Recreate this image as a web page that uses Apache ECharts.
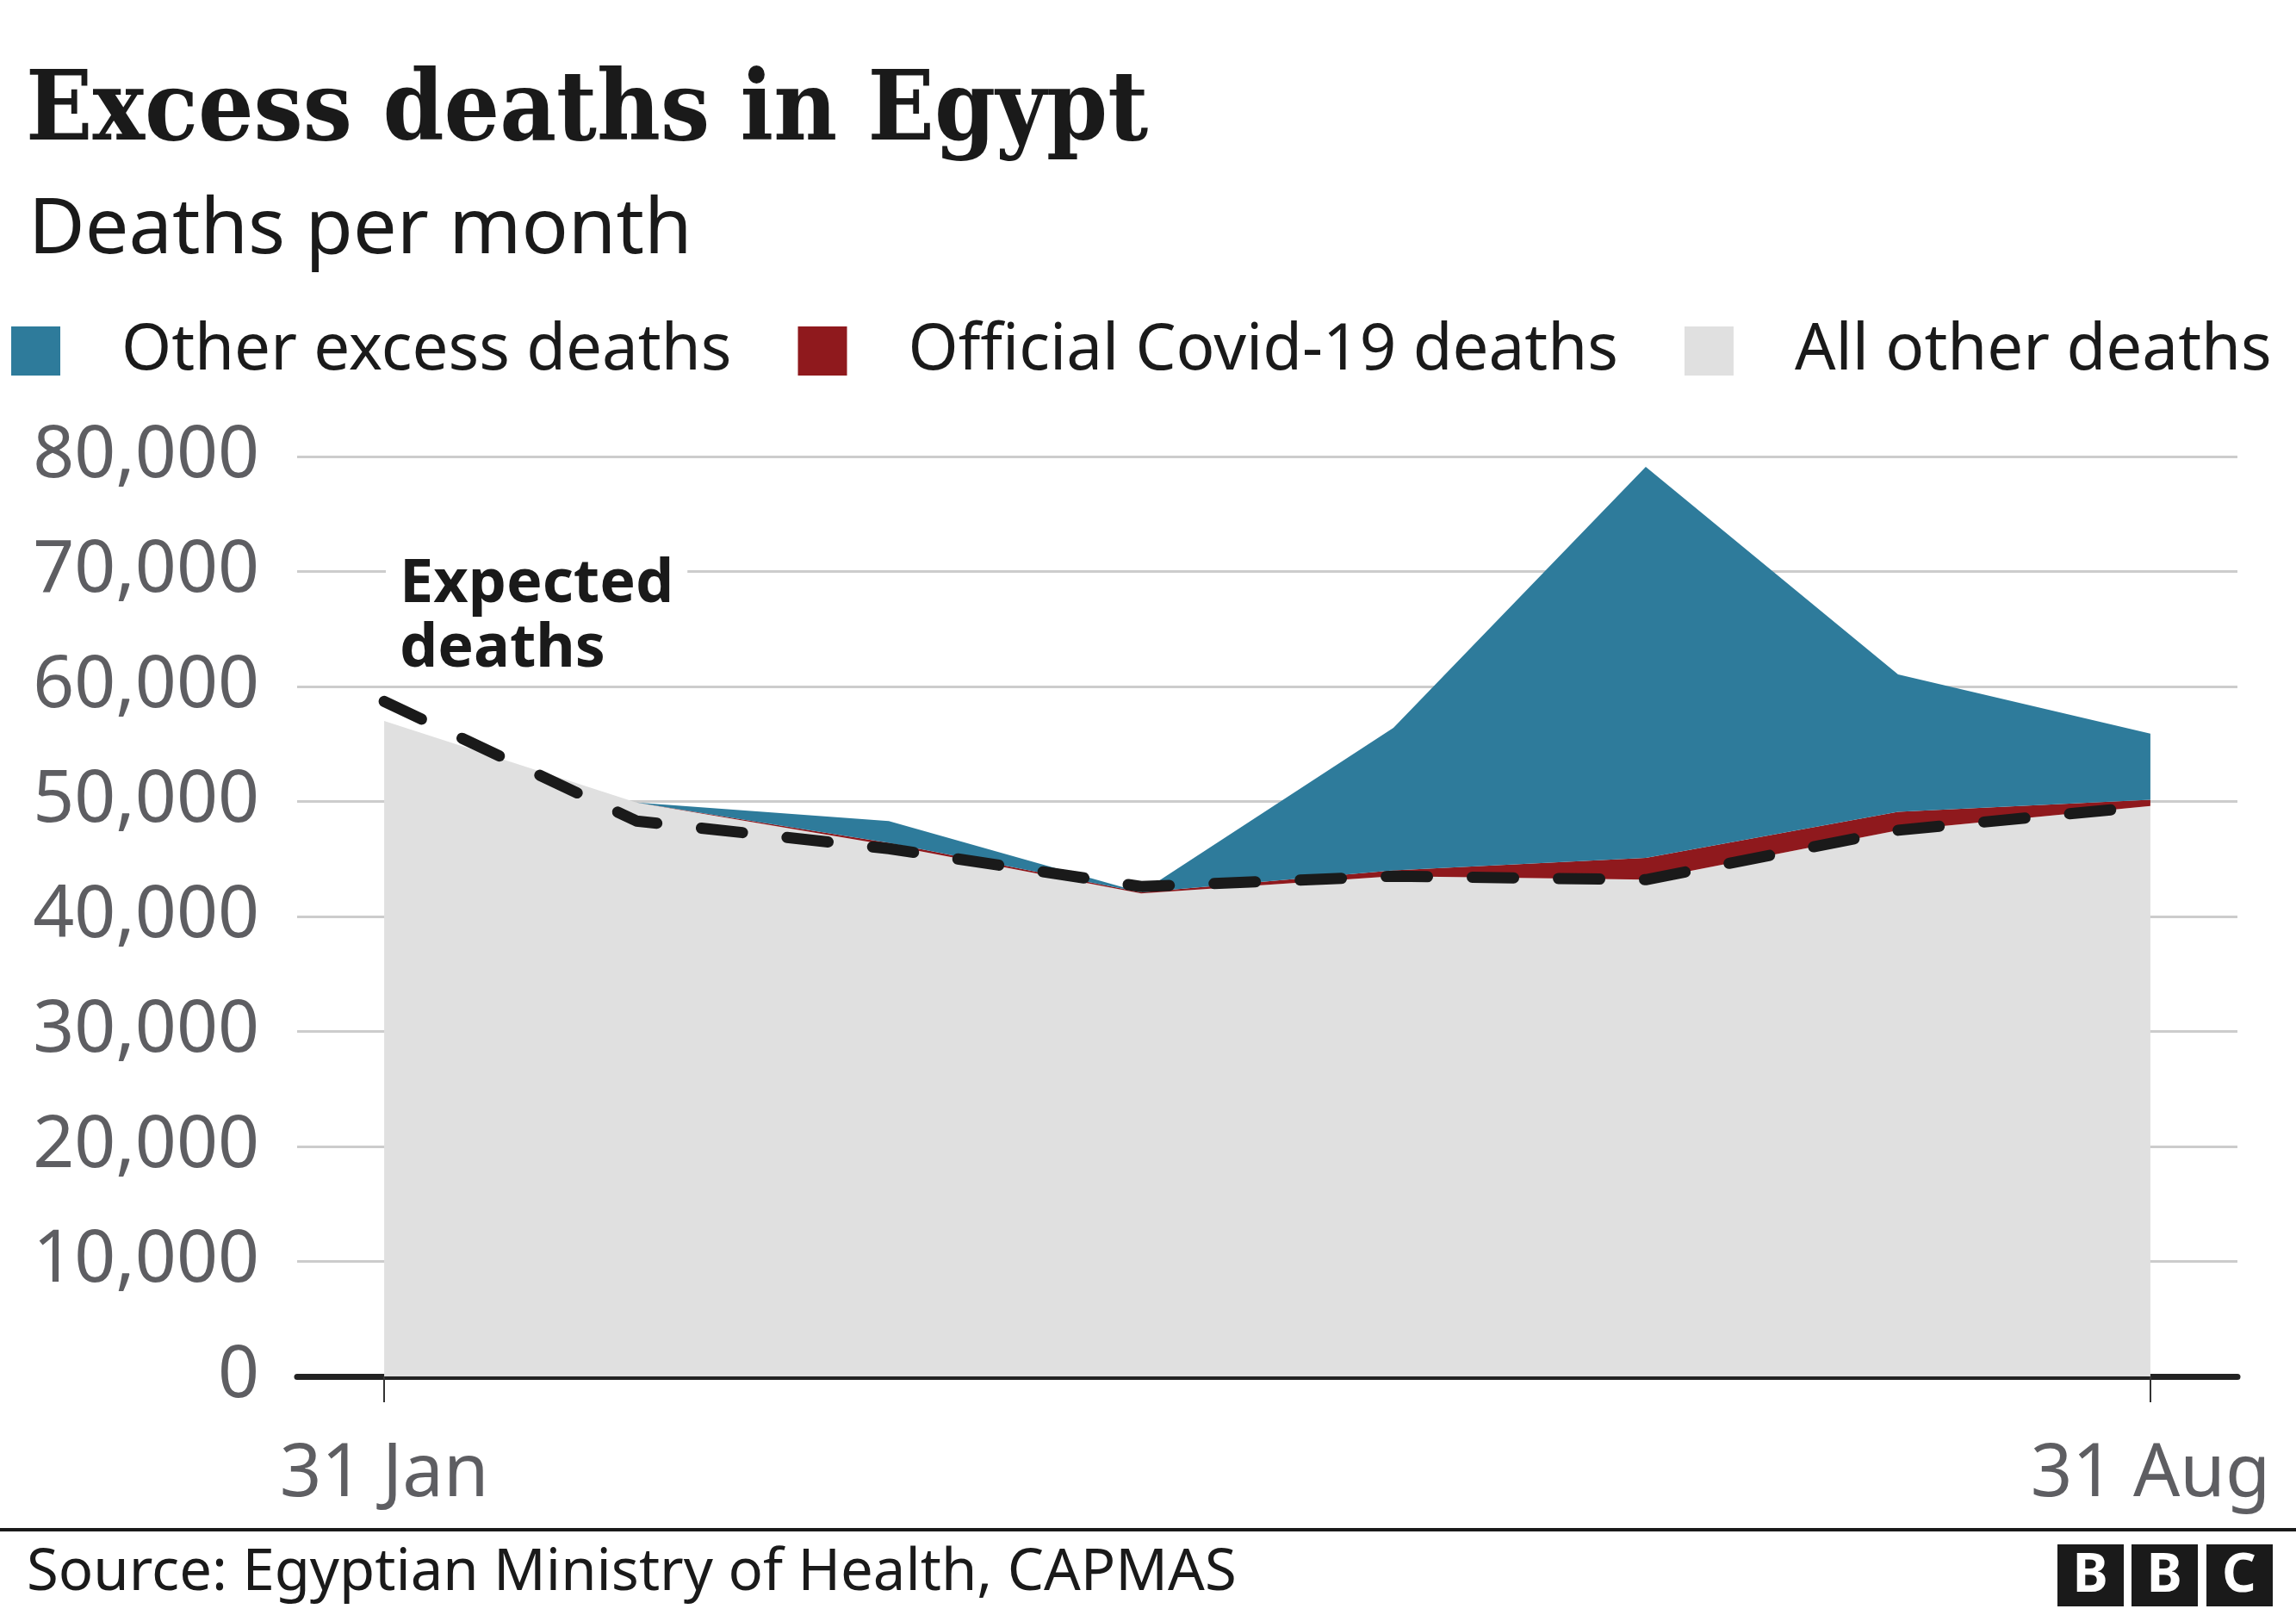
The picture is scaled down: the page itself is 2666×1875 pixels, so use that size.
<!DOCTYPE html>
<html>
<head>
<meta charset="utf-8">
<script src="https://cdn.jsdelivr.net/npm/echarts@6/dist/echarts.min.js"></script>
<style>
html,body{margin:0;padding:0;background:#fff;}
#chart{width:2666px;height:1875px;}
</style>
</head>
<body>
<div id="chart"></div>
<script>
// Months (position index along x)
const months = ['Jan', 'Feb', 'Mar', 'Apr', 'May', 'Jun', 'Jul', 'Aug'];
const allOtherDeaths = [57000, 49900, 46200, 42000, 43500, 43200, 47500, 49600];
const covidDeaths = [0, 0, 200, 100, 500, 1900, 1600, 550];
const otherExcessDeaths = [0, 0, 1900, 0, 12400, 34000, 11950, 5750];
const expectedDeaths = [58700, 48300, 45900, 42600, 43500, 43200, 47500, 49600];
const xTickPositions = [0, 7];
const xTickLabels = ['31 Jan', '31 Aug'];

const SANS = '"Noto Sans", "Open Sans", sans-serif';
// value first, month index second (so the value dimension is the stacked one)
const toPairs = arr => arr.map((v, i) => [v, i]);
const ENC = {x: 1, y: 0};

const chart = echarts.init(document.getElementById('chart'), null, {renderer: 'canvas'});

const option = {
  backgroundColor: '#ffffff',
  animation: false,
  title: [
    {
      text: 'Excess deaths in Egypt',
      left: 30, top: 68, padding: 0,
      textStyle: {fontFamily: '"DejaVu Serif Condensed", "DejaVu Serif", serif', fontWeight: 'bold', fontSize: 113, lineHeight: 130, color: '#1a1a1a'}
    },
    {
      text: 'Deaths per month',
      left: 33, top: 214, padding: 0,
      textStyle: {fontFamily: SANS, fontWeight: 'normal', fontSize: 90, lineHeight: 108, color: '#1a1a1a'}
    }
  ],
  legend: {
    left: 13, top: 370, padding: 0,
    itemWidth: 57, itemHeight: 57, itemGap: 77,
    icon: 'rect',
    data: ['Other excess deaths', 'Official Covid-19 deaths', 'All other deaths'],
    textStyle: {fontFamily: SANS, fontSize: 74.5, color: '#1a1a1a', lineHeight: 57, padding: [0, 0, 0, 66]},
    selectedMode: false
  },
  grid: {left: 345, right: 68, top: 530, bottom: 277, containLabel: false},
  xAxis: {
    type: 'value',
    min: -0.345, max: 7.345,
    splitLine: {show: false},
    axisLine: {show: true, onZero: false, lineStyle: {color: '#222222', width: 7}},
    axisTick: {show: true, customValues: xTickPositions, length: 30, lineStyle: {color: '#333333', width: 2}},
    axisLabel: {
      show: true, customValues: xTickPositions, margin: 72,
      formatter: v => xTickLabels[xTickPositions.indexOf(Math.round(v))] || '',
      fontFamily: SANS, fontSize: 85, color: '#5e5e62'
    }
  },
  yAxis: {
    type: 'value',
    min: 0, max: 80000, interval: 10000,
    axisLine: {show: false},
    axisTick: {show: false},
    splitLine: {show: true, lineStyle: {color: '#cccccc', width: 3}},
    axisLabel: {
      margin: 44, fontFamily: SANS, fontSize: 84, color: '#5e5e62',
      formatter: v => v.toLocaleString('en-US')
    }
  },
  series: [
    {
      name: 'All other deaths', type: 'line', stack: 'deaths', encode: ENC,
      data: toPairs(allOtherDeaths), symbol: 'none',
      lineStyle: {width: 0}, itemStyle: {color: '#e0e0e0'},
      areaStyle: {color: '#e0e0e0', opacity: 1}, z: 1
    },
    {
      name: 'Official Covid-19 deaths', type: 'line', stack: 'deaths', encode: ENC,
      data: toPairs(covidDeaths), symbol: 'none',
      lineStyle: {width: 0}, itemStyle: {color: '#8f191d'},
      areaStyle: {color: '#8f191d', opacity: 1}, z: 2
    },
    {
      name: 'Other excess deaths', type: 'line', stack: 'deaths', encode: ENC,
      data: toPairs(otherExcessDeaths), symbol: 'none',
      lineStyle: {width: 0}, itemStyle: {color: '#2e7b9b'},
      areaStyle: {color: '#2e7b9b', opacity: 1}, z: 3
    },
    {
      name: 'Expected deaths', type: 'line', encode: ENC,
      data: toPairs(expectedDeaths), symbol: 'none',
      lineStyle: {color: '#1a1a1a', width: 13, type: [48, 52], cap: 'round', join: 'round'},
      itemStyle: {color: '#1a1a1a'}, z: 5
    }
  ],
  graphic: [
    {
      type: 'text', left: 448, top: 636, z: 10,
      style: {
        text: 'Expected\ndeaths',
        font: 'bold 70px "Noto Sans", sans-serif',
        lineHeight: 75, fill: '#1a1a1a',
        backgroundColor: '#ffffff', padding: [6, 16, 0, 16]
      }
    },
    {
      type: 'rect', left: 0, top: 1774, z: 10,
      shape: {width: 2666, height: 4}, style: {fill: '#1a1a1a'}
    },
    {
      type: 'text', left: 31, top: 1788, z: 10,
      style: {text: 'Source: Egyptian Ministry of Health, CAPMAS', font: '67px "Noto Sans", sans-serif', fill: '#1a1a1a', lineHeight: 78}
    },
    {type: 'rect', left: 2389, top: 1793, z: 10, shape: {width: 77, height: 72}, style: {fill: '#1a1a1a'}},
    {type: 'rect', left: 2475, top: 1793, z: 10, shape: {width: 77, height: 72}, style: {fill: '#1a1a1a'}},
    {type: 'rect', left: 2562, top: 1793, z: 10, shape: {width: 77, height: 72}, style: {fill: '#1a1a1a'}},
    {type: 'text', z: 11, x: 2427, y: 1830, style: {text: 'B', font: 'bold 62px "Noto Sans", sans-serif', fill: '#ffffff', align: 'center', verticalAlign: 'middle'}},
    {type: 'text', z: 11, x: 2513, y: 1830, style: {text: 'B', font: 'bold 62px "Noto Sans", sans-serif', fill: '#ffffff', align: 'center', verticalAlign: 'middle'}},
    {type: 'text', z: 11, x: 2600, y: 1830, style: {text: 'C', font: 'bold 62px "Noto Sans", sans-serif', fill: '#ffffff', align: 'center', verticalAlign: 'middle'}}
  ]
};
chart.setOption(option);
</script>
</body>
</html>
